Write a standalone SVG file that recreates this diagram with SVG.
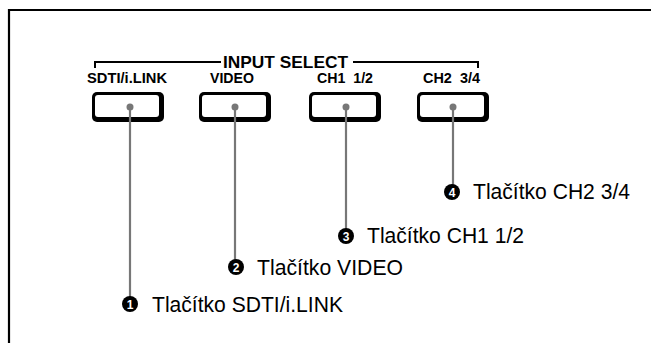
<svg xmlns="http://www.w3.org/2000/svg" width="651" height="343" viewBox="0 0 651 343">
<style>
.frame{fill:none;stroke:#000;stroke-width:2.2}
.bracket{fill:none;stroke:#000;stroke-width:2}
.hdr{font-family:"Liberation Sans",Arial,sans-serif;font-weight:bold;font-size:16.5px;fill:#000;white-space:pre}
.lbl{font-family:"Liberation Sans",Arial,sans-serif;font-weight:bold;font-size:15px;fill:#000;white-space:pre}
.btn-out{fill:#000}
.btn-in{fill:#fff}
.dot{fill:#777}
.lead{stroke:#777;stroke-width:2.2;fill:none}
.num{fill:#000}
.numt{font-family:"Liberation Sans",Arial,sans-serif;font-weight:bold;font-size:12px;fill:#fff}
.call{font-family:"Liberation Sans",Arial,sans-serif;font-size:21.5px;fill:#000}
</style>
<rect width="651" height="343" fill="#fff"/>
<path class="frame" d="M9,343 V10 H651"/>
<g id="input-select">
<path class="bracket" d="M95,68 V62 H221 M353,62 H478 V68"/>
<text class="hdr" x="223" y="68" textLength="125" lengthAdjust="spacingAndGlyphs">INPUT SELECT</text>
</g>
<g id="btn-sdti">
<text class="lbl" x="87" y="83" textLength="80" lengthAdjust="spacingAndGlyphs">SDTI/i.LINK</text>
<rect class="btn-out" x="92" y="92" width="72" height="30" rx="5"/>
<rect class="btn-in" x="95" y="95" width="64" height="22" rx="3"/>
<circle class="dot" cx="130" cy="107" r="3.5"/>
</g>
<g id="btn-video">
<text class="lbl" x="210" y="83" textLength="44" lengthAdjust="spacingAndGlyphs">VIDEO</text>
<rect class="btn-out" x="199" y="92" width="72" height="30" rx="5"/>
<rect class="btn-in" x="202" y="95" width="64" height="22" rx="3"/>
<circle class="dot" cx="235" cy="107" r="3.5"/>
</g>
<g id="btn-ch1">
<text class="lbl" x="317" y="83" textLength="56" lengthAdjust="spacingAndGlyphs">CH1  1/2</text>
<rect class="btn-out" x="309" y="92" width="72" height="30" rx="5"/>
<rect class="btn-in" x="312" y="95" width="64" height="22" rx="3"/>
<circle class="dot" cx="346" cy="107" r="3.5"/>
</g>
<g id="btn-ch2">
<text class="lbl" x="423" y="83" textLength="57" lengthAdjust="spacingAndGlyphs">CH2  3/4</text>
<rect class="btn-out" x="417" y="92" width="72" height="30" rx="5"/>
<rect class="btn-in" x="420" y="95" width="64" height="22" rx="3"/>
<circle class="dot" cx="453" cy="107" r="3.5"/>
</g>
<g id="connectors">
<path class="lead" d="M130,107 V297"/>
<path class="lead" d="M235,107 V261"/>
<path class="lead" d="M346,107 V230"/>
<path class="lead" d="M453,107 V186"/>
</g>
<g id="callout-1">
<circle class="num" cx="130" cy="304" r="8"/>
<text class="numt" x="130" y="308.5" text-anchor="middle">1</text>
<text class="call" x="152" y="312" textLength="191" lengthAdjust="spacingAndGlyphs">Tlačítko SDTI/i.LINK</text>
</g>
<g id="callout-2">
<circle class="num" cx="236" cy="267" r="8"/>
<text class="numt" x="236" y="271.5" text-anchor="middle">2</text>
<text class="call" x="257" y="275" textLength="146" lengthAdjust="spacingAndGlyphs">Tlačítko VIDEO</text>
</g>
<g id="callout-3">
<circle class="num" cx="346" cy="236" r="8"/>
<text class="numt" x="346" y="240.5" text-anchor="middle">3</text>
<text class="call" x="367" y="243" textLength="157" lengthAdjust="spacingAndGlyphs">Tlačítko CH1 1/2</text>
</g>
<g id="callout-4">
<circle class="num" cx="452" cy="192" r="8"/>
<text class="numt" x="452" y="196.5" text-anchor="middle">4</text>
<text class="call" x="473" y="199" textLength="157" lengthAdjust="spacingAndGlyphs">Tlačítko CH2 3/4</text>
</g>
</svg>
